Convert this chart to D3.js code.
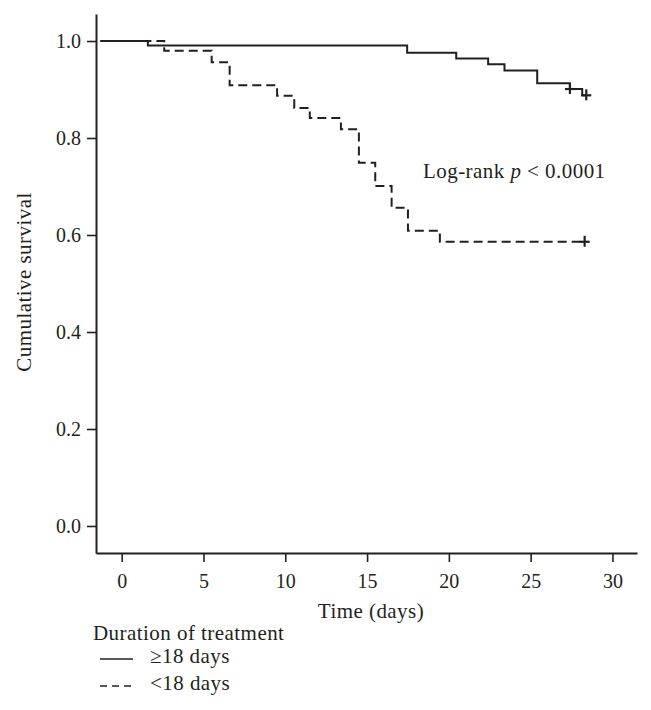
<!DOCTYPE html>
<html>
<head>
<meta charset="utf-8">
<script src="https://cdn.jsdelivr.net/npm/d3@7"></script>
<style>
  body { margin: 0; background: #fff; }
  text { font-family: "Liberation Serif", "DejaVu Serif", serif; fill: #231f20; }
  .lbl { font-size: 21px; letter-spacing: 0.45px; }
</style>
</head>
<body>
<svg id="chart" width="651" height="710"></svg>
<script>
// Kaplan-Meier steps
var longTimes = [-1.3, 1.6, 17.45, 20.45, 22.4, 23.4, 25.4, 27.4, 28.15, 28.4];
var longSurv  = [1.0, 0.991, 0.976, 0.964, 0.952, 0.939, 0.913, 0.901, 0.888, 0.888];
var shortTimes = [-1.3, 2.6, 5.5, 6.6, 9.5, 10.55, 11.5, 13.4, 14.5, 15.5, 16.5, 17.5, 19.45, 28.3];
var shortSurv  = [1.0, 0.980, 0.956, 0.909, 0.887, 0.862, 0.841, 0.818, 0.749, 0.701, 0.656, 0.609, 0.586, 0.586];
var longCensorT = [27.4, 28.4];
var longCensorS = [0.901, 0.888];
var shortCensorT = [28.3];
var shortCensorS = [0.586];
var xTicks = [0, 5, 10, 15, 20, 25, 30];
var yTicks = [0, 0.2, 0.4, 0.6, 0.8, 1.0];
var legendLabels = ["\u226518 days", "<18 days"];

var ink = "#231f20";
var svg = d3.select("#chart");

var x = d3.scaleLinear().domain([-1.57, 31.5]).range([96, 637]);
var y = d3.scaleLinear().domain([-0.0557, 1.0557]).range([553, 14]);

// axes
var xAxis = svg.append("g")
  .attr("transform", "translate(0,553)")
  .call(d3.axisBottom(x).tickValues(xTicks).tickSize(9).tickPadding(12).tickSizeOuter(0));
var yAxis = svg.append("g")
  .attr("transform", "translate(96,0)")
  .call(d3.axisLeft(y).tickValues(yTicks).tickSize(9).tickPadding(6).tickSizeOuter(0)
    .tickFormat(d3.format(".1f")));

[xAxis, yAxis].forEach(function (g) {
  g.select(".domain").attr("stroke", ink).attr("stroke-width", 2);
  g.selectAll(".tick line").attr("stroke", ink).attr("stroke-width", 1.6);
  g.selectAll(".tick text").attr("fill", ink)
    .style("font-family", "Liberation Serif, serif").style("font-size", "20px");
});

// curves
var line = d3.line()
  .x(function (d) { return x(d[0]); })
  .y(function (d) { return y(d[1]); })
  .curve(d3.curveStepAfter);

var longData = longTimes.map(function (t, i) { return [t, longSurv[i]]; });
var shortData = shortTimes.map(function (t, i) { return [t, shortSurv[i]]; });

svg.append("path").datum(shortData)
  .attr("d", line).attr("fill", "none")
  .attr("stroke", ink).attr("stroke-width", 2)
  .attr("stroke-dasharray", "9,5");

svg.append("path").datum(longData)
  .attr("d", line).attr("fill", "none")
  .attr("stroke", ink).attr("stroke-width", 2);

// censor marks
function censor(ts, ss, sw) {
  var pts = ts.map(function (t, i) { return [t, ss[i]]; });
  var g = svg.append("g").attr("stroke", ink).attr("stroke-width", sw);
  pts.forEach(function (p) {
    var cx = x(p[0]), cy = y(p[1]);
    g.append("line").attr("x1", cx - 5).attr("x2", cx + 5).attr("y1", cy).attr("y2", cy);
    g.append("line").attr("x1", cx).attr("x2", cx).attr("y1", cy - 6).attr("y2", cy + 5);
  });
}
censor(longCensorT, longCensorS, 2.2);
censor(shortCensorT, shortCensorS, 2.2);

// log-rank note
var note = svg.append("text").attr("class", "lbl").attr("x", 423).attr("y", 178);
note.append("tspan").text("Log-rank ");
note.append("tspan").style("font-style", "italic").text("p");
note.append("tspan").text(" < 0.0001");

// axis titles
svg.append("text").attr("class", "lbl")
  .attr("x", 371).attr("y", 618)
  .attr("text-anchor", "middle")
  .text("Time (days)");

svg.append("text").attr("class", "lbl")
  .attr("transform", "translate(31,282) rotate(-90)")
  .attr("text-anchor", "middle")
  .text("Cumulative survival");

// legend
svg.append("text").attr("class", "lbl").attr("x", 93).attr("y", 640)
  .text("Duration of treatment");

var legend = svg.append("g");
legendLabels.forEach(function (lab, i) {
  var ly = 659 + i * 27;
  legend.append("line")
    .attr("x1", 100).attr("x2", 133).attr("y1", ly).attr("y2", ly)
    .attr("stroke", ink).attr("stroke-width", 1.6)
    .attr("stroke-dasharray", i === 1 ? "7,5" : null);
  legend.append("text").attr("class", "lbl")
    .attr("x", 150).attr("y", ly + 4)
    .text(lab);
});
</script>
</body>
</html>
